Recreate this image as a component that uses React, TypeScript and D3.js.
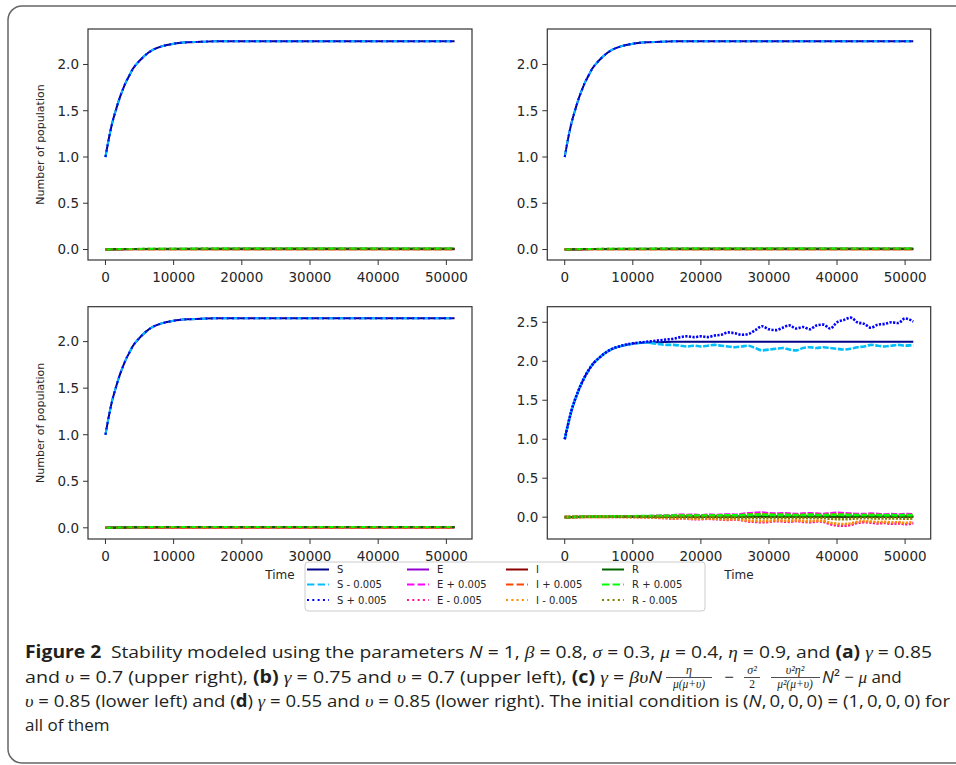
import React from "react";
import * as d3 from "d3";

// sampling times
const timeSmooth = [0, 500, 1000, 1500, 2000, 2500, 3000, 3500, 4000, 5000, 6000, 7000, 8000, 9000, 10000, 12000, 14000, 16000, 20000, 30000, 40000, 51200];
const timeZero = [0, 4000, 10000, 20000, 51200];
const timeNoise = [0, 1000, 2000, 3000, 4000, 5000, 6000, 7000, 8000, 9000, 10000, 11000, 12000, 13000, 14000, 15000, 16000, 17000, 18000, 19000, 20000, 21000, 22000, 23000, 24000, 25000, 26000, 27000, 28000, 29000, 30000, 31000, 32000, 33000, 34000, 35000, 36000, 37000, 38000, 39000, 40000, 41000, 42000, 43000, 44000, 45000, 46000, 47000, 48000, 49000, 50000, 51200];

// deterministic curves
const sCurve = [1.0, 1.2, 1.37, 1.5, 1.62, 1.72, 1.81, 1.88, 1.95, 2.04, 2.11, 2.16, 2.19, 2.21, 2.225, 2.24, 2.245, 2.25, 2.25, 2.25, 2.25, 2.25];
const eCurve = [0, 0.005, 0.006, 0.006, 0.006];
const iCurve = [0, 0.003, 0.004, 0.004, 0.004];
const rCurve = [0, 0.006, 0.009, 0.01, 0.01];

// perturbed paths of panel (d)
const sPlusD = [1.0, 1.37, 1.62, 1.81, 1.95, 2.04, 2.11, 2.16, 2.19, 2.215, 2.23, 2.24, 2.25, 2.26, 2.27, 2.28, 2.29, 2.31, 2.32, 2.31, 2.32, 2.31, 2.33, 2.34, 2.37, 2.36, 2.34, 2.35, 2.4, 2.45, 2.41, 2.4, 2.43, 2.46, 2.42, 2.44, 2.41, 2.46, 2.47, 2.42, 2.5, 2.53, 2.56, 2.5, 2.48, 2.43, 2.47, 2.48, 2.5, 2.49, 2.55, 2.51];
const sMinusD = [1.0, 1.37, 1.62, 1.81, 1.95, 2.04, 2.11, 2.16, 2.19, 2.21, 2.225, 2.235, 2.24, 2.23, 2.22, 2.21, 2.21, 2.2, 2.19, 2.2, 2.19, 2.2, 2.21, 2.2, 2.19, 2.18, 2.19, 2.2, 2.17, 2.14, 2.15, 2.16, 2.17, 2.15, 2.14, 2.17, 2.18, 2.17, 2.18, 2.17, 2.16, 2.15, 2.16, 2.18, 2.19, 2.21, 2.2, 2.19, 2.2, 2.21, 2.2, 2.21];
const ePlusD = [0, 0.003, 0.005, 0.006, 0.006, 0.006, 0.006, 0.007, 0.007, 0.008, 0.008, 0.01, 0.012, 0.015, 0.018, 0.02, 0.025, 0.03, 0.028, 0.03, 0.025, 0.03, 0.028, 0.03, 0.035, 0.03, 0.04, 0.05, 0.055, 0.06, 0.05, 0.045, 0.05, 0.045, 0.04, 0.045, 0.05, 0.045, 0.04, 0.05, 0.055, 0.05, 0.045, 0.04, 0.04, 0.045, 0.04, 0.035, 0.04, 0.035, 0.04, 0.035];
const eMinusD = [0, 0.002, 0.004, 0.005, 0.005, 0.005, 0.005, 0.004, 0.004, 0.003, 0.002, 0, -0.003, -0.005, -0.01, -0.013, -0.02, -0.015, -0.02, -0.025, -0.026, -0.02, -0.025, -0.03, -0.035, -0.03, -0.04, -0.055, -0.06, -0.065, -0.06, -0.05, -0.055, -0.06, -0.05, -0.06, -0.065, -0.055, -0.06, -0.09, -0.105, -0.11, -0.1, -0.075, -0.065, -0.07, -0.08, -0.075, -0.085, -0.08, -0.09, -0.08];
const iPlusD = [0, 0.002, 0.003, 0.004, 0.004, 0.004, 0.004, 0.005, 0.005, 0.005, 0.006, 0.007, 0.008, 0.01, 0.012, 0.014, 0.016, 0.02, 0.018, 0.02, 0.018, 0.02, 0.019, 0.021, 0.024, 0.021, 0.027, 0.033, 0.037, 0.04, 0.034, 0.03, 0.034, 0.03, 0.027, 0.03, 0.034, 0.03, 0.027, 0.034, 0.037, 0.034, 0.03, 0.027, 0.027, 0.03, 0.027, 0.024, 0.027, 0.024, 0.027, 0.024];
const iMinusD = [0, 0.001, 0.002, 0.003, 0.003, 0.003, 0.003, 0.002, 0.002, 0.001, 0, -0.001, -0.003, -0.004, -0.008, -0.01, -0.016, -0.012, -0.016, -0.02, -0.021, -0.016, -0.02, -0.024, -0.028, -0.024, -0.032, -0.044, -0.048, -0.052, -0.048, -0.04, -0.044, -0.048, -0.04, -0.048, -0.052, -0.044, -0.048, -0.072, -0.084, -0.088, -0.08, -0.06, -0.052, -0.056, -0.064, -0.06, -0.068, -0.064, -0.072, -0.064];
const rPlusD = [0, 0.003, 0.005, 0.007, 0.008, 0.009, 0.01, 0.01, 0.011, 0.011, 0.012, 0.013, 0.014, 0.015, 0.017, 0.018, 0.02, 0.022, 0.021, 0.022, 0.02, 0.022, 0.021, 0.023, 0.025, 0.023, 0.027, 0.03, 0.032, 0.034, 0.03, 0.028, 0.03, 0.028, 0.027, 0.028, 0.03, 0.028, 0.027, 0.03, 0.032, 0.03, 0.028, 0.027, 0.027, 0.028, 0.027, 0.025, 0.027, 0.025, 0.027, 0.025];
const rMinusD = [0, 0.002, 0.004, 0.005, 0.006, 0.007, 0.007, 0.007, 0.007, 0.007, 0.006, 0.006, 0.005, 0.004, 0.003, 0.002, 0, 0.001, 0, -0.002, -0.002, 0, -0.002, -0.004, -0.005, -0.004, -0.006, -0.01, -0.012, -0.014, -0.012, -0.008, -0.01, -0.012, -0.008, -0.01, -0.012, -0.01, -0.012, -0.02, -0.025, -0.027, -0.022, -0.015, -0.012, -0.014, -0.017, -0.015, -0.018, -0.017, -0.02, -0.017];

const xTicks = [0, 10000, 20000, 30000, 40000, 50000];
const yTicksCalm = [0, 0.5, 1, 1.5, 2];
const yTicksNoisy = [0, 0.5, 1, 1.5, 2, 2.5];

const DASHED = "7.4,3.2";
const DOTTED = "2,3.3";
// jagged stochastic paths look almost solid in the reference
const DASHED_NOISY = "6,1.6";
const DOTTED_NOISY = "2.2,1.4";

// legend order (column by column)
const seriesStyle = [
  { key: "S", color: "#00008b", dash: "" },
  { key: "S - 0.005", color: "#00bfff", dash: DASHED },
  { key: "S + 0.005", color: "#0000ff", dash: DOTTED },
  { key: "E", color: "#9400d3", dash: "" },
  { key: "E + 0.005", color: "#ff00ff", dash: DASHED },
  { key: "E - 0.005", color: "#ff1493", dash: DOTTED },
  { key: "I", color: "#8b0000", dash: "" },
  { key: "I + 0.005", color: "#ff4500", dash: DASHED },
  { key: "I - 0.005", color: "#ff8c00", dash: DOTTED },
  { key: "R", color: "#006400", dash: "" },
  { key: "R + 0.005", color: "#00ff00", dash: DASHED },
  { key: "R - 0.005", color: "#808000", dash: DOTTED },
];

const calmSeries = {
  "S": [timeSmooth, sCurve],
  "S - 0.005": [timeSmooth, sCurve],
  "S + 0.005": [timeSmooth, sCurve],
  "E": [timeZero, eCurve],
  "E + 0.005": [timeZero, eCurve],
  "E - 0.005": [timeZero, eCurve],
  "I": [timeZero, iCurve],
  "I + 0.005": [timeZero, iCurve],
  "I - 0.005": [timeZero, iCurve],
  "R": [timeZero, rCurve],
  "R + 0.005": [timeZero, rCurve],
  "R - 0.005": [timeZero, rCurve],
};

const noisySeries = {
  "S": [timeSmooth, sCurve],
  "S - 0.005": [timeNoise, sMinusD],
  "S + 0.005": [timeNoise, sPlusD],
  "E": [timeZero, eCurve],
  "E + 0.005": [timeNoise, ePlusD],
  "E - 0.005": [timeNoise, eMinusD],
  "I": [timeZero, iCurve],
  "I + 0.005": [timeNoise, iPlusD],
  "I - 0.005": [timeNoise, iMinusD],
  "R": [timeZero, rCurve],
  "R + 0.005": [timeNoise, rPlusD],
  "R - 0.005": [timeNoise, rMinusD],
};

const panels = [
  { box: [88, 472, 29, 260], yDomain: [-0.1135, 2.3835], yTicks: yTicksCalm, series: calmSeries, yLabel: true, xLabel: false },
  { box: [547.3, 930.7, 29, 260], yDomain: [-0.1135, 2.3835], yTicks: yTicksCalm, series: calmSeries, yLabel: false, xLabel: false },
  { box: [88, 472, 306.7, 539], yDomain: [-0.12, 2.375], yTicks: yTicksCalm, series: calmSeries, yLabel: true, xLabel: true },
  { box: [547.3, 930.7, 306.7, 539], yDomain: [-0.28, 2.7], yTicks: yTicksNoisy, series: noisySeries, yLabel: false, xLabel: true },
];

const TICK_FONT = "'DejaVu Sans', sans-serif";
const CAP_FONT = "'Liberation Sans Narrow', 'Open Sans', sans-serif";
const MATH_FONT = "'Liberation Serif', 'DejaVu Serif', serif";
const fmt = d3.format(".1f");

function Panel({ p }) {
  const [x0, x1, y0, y1] = p.box;
  const x = d3.scaleLinear().domain([-2560, 53760]).range([x0, x1]);
  const y = d3.scaleLinear().domain(p.yDomain).range([y1, y0]);
  const line = d3
    .line<[number, number]>()
    .x((d) => x(d[0]))
    .y((d) => y(d[1]))
    .curve(d3.curveMonotoneX);

  return (
    <g>
      <defs>
        <clipPath id={`clip-${x0}-${y0}`}>
          <rect x={x0} y={y0} width={x1 - x0} height={y1 - y0} />
        </clipPath>
      </defs>
      <g clipPath={`url(#clip-${x0}-${y0})`}>
        {seriesStyle.map((s) => {
          const [ts, vs] = p.series[s.key];
          const pts = ts.map((t, i) => [t, vs[i]] as [number, number]);
          const noisy = ts === timeNoise;
          let dash = s.dash;
          if (noisy && dash === DASHED) dash = DASHED_NOISY;
          if (noisy && dash === DOTTED) dash = DOTTED_NOISY;
          return (
            <path
              key={s.key}
              d={line(pts) || ""}
              fill="none"
              stroke={s.color}
              strokeWidth={noisy ? 2.6 : 2}
              strokeLinejoin="round"
              strokeDasharray={dash || undefined}
            />
          );
        })}
      </g>
      <rect x={x0} y={y0} width={x1 - x0} height={y1 - y0} fill="none" stroke="#333" strokeWidth={1.2} />
      {xTicks.map((t) => (
        <g key={t}>
          <line x1={x(t)} x2={x(t)} y1={y1} y2={y1 + 5} stroke="#333" strokeWidth={1} />
          <text x={x(t)} y={y1 + 22} textAnchor="middle" fontFamily={TICK_FONT} fontSize={13.5} fill="#262626">
            {t}
          </text>
        </g>
      ))}
      {p.yTicks.map((t) => (
        <g key={t}>
          <line x1={x0 - 5} x2={x0} y1={y(t)} y2={y(t)} stroke="#333" strokeWidth={1} />
          <text x={x0 - 9} y={y(t)} dy="0.36em" textAnchor="end" fontFamily={TICK_FONT} fontSize={13.5} fill="#262626">
            {fmt(t)}
          </text>
        </g>
      ))}
      {p.yLabel && (
        <text
          transform={`translate(44,${(y0 + y1) / 2}) rotate(-90)`}
          textAnchor="middle"
          fontFamily={TICK_FONT}
          fontSize={11}
          fill="#262626"
        >
          Number of population
        </text>
      )}
      {p.xLabel && (
        <text x={(x0 + x1) / 2} y={579} textAnchor="middle" fontFamily={TICK_FONT} fontSize={12} fill="#262626">
          Time
        </text>
      )}
    </g>
  );
}

function Legend() {
  const colX = [307, 407, 506, 602];
  const rowY = [569.5, 584.5, 600];
  return (
    <g>
      <rect x={305} y={562} width={400} height={49} rx={3} fill="#fff" fillOpacity={0.85} stroke="#ccc" strokeWidth={1} />
      {seriesStyle.map((s, i) => {
        const cx = colX[Math.floor(i / 3)];
        const cy = rowY[i % 3];
        return (
          <g key={s.key}>
            <line x1={cx} x2={cx + 22} y1={cy} y2={cy} stroke={s.color} strokeWidth={2} strokeDasharray={s.dash || undefined} />
            <text x={cx + 30} y={cy} dy="0.36em" fontFamily={TICK_FONT} fontSize={10} fill="#262626">
              {s.key}
            </text>
          </g>
        );
      })}
    </g>
  );
}

const M = (props) => <tspan fontFamily={MATH_FONT} fontStyle="italic" {...props} />;
const B = (props) => <tspan fontWeight={700} {...props} />;
const It = (props) => <tspan fontStyle="italic" {...props} />;

function Caption() {
  const col = "#231f20";
  const fs = 17;
  const small = 11.5;
  const numY = 674;
  const barY = 677.5;
  const denY = 688;
  return (
    <g fontFamily={CAP_FONT} fill={col}>
      <text x={25} y={658} fontSize={fs} textLength={907} lengthAdjust="spacingAndGlyphs">
        <B>Figure 2</B>
        {"\u2002Stability modeled using the parameters "}
        <It>N</It>
        {" = 1, "}
        <M>β</M>
        {" = 0.8, "}
        <M>σ</M>
        {" = 0.3, "}
        <M>μ</M>
        {" = 0.4, "}
        <M>η</M>
        {" = 0.9, and "}
        <B>(a)</B>
        {" "}
        <M>γ</M>
        {" = 0.85"}
      </text>
      <text x={25} y={683} fontSize={fs} textLength={637} lengthAdjust="spacingAndGlyphs">
        {"and "}
        <M>υ</M>
        {" = 0.7 (upper right), "}
        <B>(b)</B>
        {" "}
        <M>γ</M>
        {" = 0.75 and "}
        <M>υ</M>
        {" = 0.7 (upper left), "}
        <B>(c)</B>
        {" "}
        <M>γ</M>
        {" = "}
        <M>βυ</M>
        <It>N</It>
      </text>
      {/* fraction eta / mu(mu+upsilon) */}
      <text x={689} y={numY} fontSize={small + 0.5} textAnchor="middle" fontFamily={MATH_FONT} fontStyle="italic">η</text>
      <line x1={666} x2={712} y1={barY} y2={barY} stroke={col} strokeWidth={0.8} />
      <text x={689} y={denY} fontSize={small} textAnchor="middle" fontFamily={MATH_FONT} fontStyle="italic">μ(μ+υ)</text>
      <text x={729} y={683} fontSize={fs} textAnchor="middle">−</text>
      {/* sigma^2 / 2 */}
      <text x={752} y={numY} fontSize={small + 0.5} textAnchor="middle" fontFamily={MATH_FONT} fontStyle="italic">σ²</text>
      <line x1={744} x2={760} y1={barY} y2={barY} stroke={col} strokeWidth={0.8} />
      <text x={752} y={denY} fontSize={small} textAnchor="middle" fontFamily={MATH_FONT}>2</text>
      {/* upsilon^2 eta^2 / mu^2(mu+upsilon) */}
      <text x={795} y={numY} fontSize={small + 0.5} textAnchor="middle" fontFamily={MATH_FONT} fontStyle="italic">υ²η²</text>
      <line x1={771} x2={820} y1={barY} y2={barY} stroke={col} strokeWidth={0.8} />
      <text x={795} y={denY} fontSize={small} textAnchor="middle" fontFamily={MATH_FONT} fontStyle="italic">μ²(μ+υ)</text>
      <text x={822} y={683} fontSize={fs}>
        <It>N</It>
        {"² − "}
        <M>μ</M>
        {" and"}
      </text>
      <text x={25} y={707} fontSize={fs} textLength={925} lengthAdjust="spacingAndGlyphs">
        <M>υ</M>
        {" = 0.85 (lower left) and ("}
        <B>d</B>
        {") "}
        <M>γ</M>
        {" = 0.55 and "}
        <M>υ</M>
        {" = 0.85 (lower right). The initial condition is ("}
        <It>N</It>
        {",\u20090,\u20090,\u20090) = (1,\u20090,\u20090,\u20090) for"}
      </text>
      <text x={25} y={731} fontSize={fs}>
        all of them
      </text>
    </g>
  );
}

export default function App() {
  return (
    <svg
      width={956}
      height={765}
      style={{ position: "absolute", left: 0, top: 0, background: "#fff" }}
    >
      <rect x={0} y={0} width={956} height={765} fill="#fff" />
      <rect x={8} y={6} width={1000} height={757} rx={14} fill="none" stroke="#666" strokeWidth={1.5} />
      {panels.map((p, i) => (
        <Panel key={i} p={p} />
      ))}
      <Legend />
      <Caption />
    </svg>
  );
}
